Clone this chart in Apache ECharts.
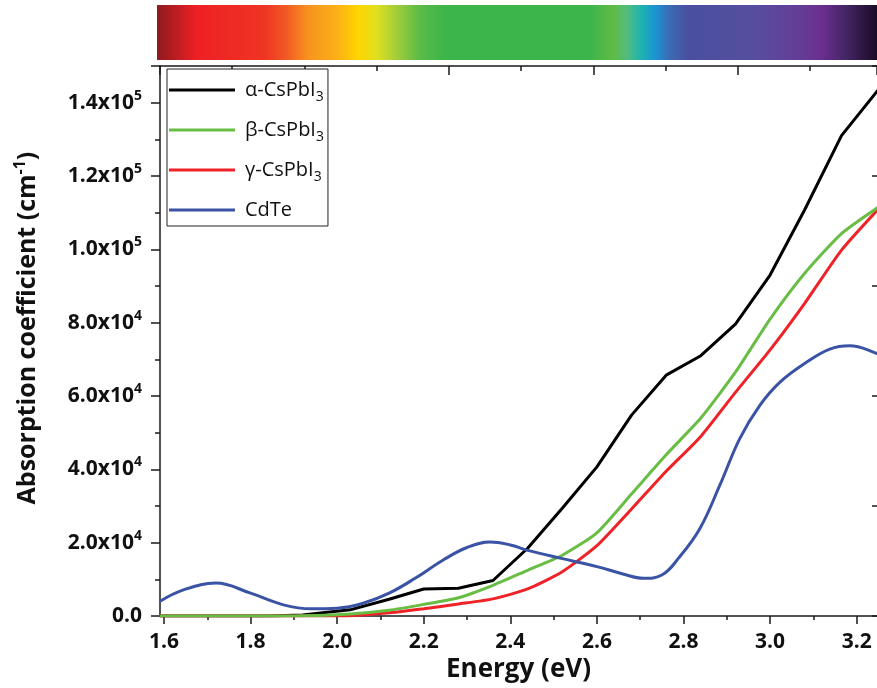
<!DOCTYPE html>
<html>
<head>
<meta charset="utf-8">
<script src="https://cdn.jsdelivr.net/npm/echarts@6/dist/echarts.min.js"></script>
<style>
html,body{margin:0;padding:0;background:#fff;}
#chart{width:877px;height:688px;}
</style>
</head>
<body>
<div id="chart"></div>
<script>
// ---- data ----
const energyCs = [1.59, 1.68, 1.76, 1.84, 1.92, 2.03, 2.12, 2.2, 2.28, 2.36, 2.44, 2.52, 2.6, 2.68, 2.76, 2.84, 2.92, 3.0, 3.08, 3.165, 3.25];
const alphaCsPbI3 = [0, 0, 0, 0, 300, 1700, 4600, 7400, 7600, 9700, 18500, 29400, 40700, 54800, 65700, 71000, 79600, 93000, 110800, 131000, 143500];
const betaCsPbI3  = [0, 0, 0, 0, 100, 600, 1600, 3200, 5000, 8400, 12500, 16600, 22700, 33300, 44000, 54000, 66500, 81000, 93500, 104300, 111500];
const gammaCsPbI3 = [0, 0, 0, 0, 0, 100, 900, 2000, 3300, 4700, 7400, 12100, 19200, 29200, 39500, 49000, 61000, 72600, 85300, 99800, 111000];
const energyCdTe = [1.59, 1.645, 1.72, 1.8, 1.876, 1.94, 2.0, 2.06, 2.12, 2.18, 2.245, 2.3, 2.353, 2.4, 2.438, 2.515, 2.6, 2.66, 2.707, 2.75, 2.79, 2.838, 2.884, 2.93, 2.976, 3.023, 3.084, 3.138, 3.184, 3.25];
const cdTe = [4000, 7150, 9000, 6250, 3070, 2000, 2150, 3500, 6250, 10300, 15300, 18700, 20200, 19400, 18000, 15800, 13500, 11500, 10300, 11200, 16000, 23900, 35700, 48400, 57400, 63800, 69200, 72800, 73700, 71400];
const seriesNames = ['α-CsPbI3', 'β-CsPbI3', 'γ-CsPbI3', 'CdTe'];
const xTickValues = [1.6, 1.8, 2.0, 2.2, 2.4, 2.6, 2.8, 3.0, 3.2];
const xMinorValues = [1.7, 1.9, 2.1, 2.3, 2.5, 2.7, 2.9, 3.1];

const FONT = 'Open Sans';
const AXC = '#1a1a1a';

function pairs(xs, ys) { return xs.map((x, i) => [x, ys[i]]); }

function yLabel(v) {
  if (Math.abs(v % 20000) > 1e-6) return '';
  if (v === 0) return '{m|0.0}';
  const e = Math.floor(Math.log10(v));
  const m = (v / Math.pow(10, e)).toFixed(1);
  return '{m|' + m + 'x10}{s|' + e + '}';
}
function legendLabel(name) {
  const m = name.match(/^(.*)(\d)$/);
  if (m) return '{t|' + m[1] + '}{sub|' + m[2] + '}';
  return '{t|' + name + '}';
}

const chart = echarts.init(document.getElementById('chart'), null, {renderer: 'canvas'});
const X_MIN = 1.5908, X_MAX = 3.247;

const option = {
  animation: false,
  backgroundColor: '#fff',
  grid: {left: 160, right: 0, top: 66, bottom: 69, containLabel: false},
  graphic: [{
    type: 'rect',
    shape: {x: 157, y: 5, width: 720, height: 55},
    style: {
      fill: new echarts.graphic.LinearGradient(0, 0, 1, 0, [
        {offset: 0, color: '#8e1a1e'},
        {offset: 0.055, color: '#ee2024'},
        {offset: 0.15, color: '#ee3524'},
        {offset: 0.18, color: '#f15a24'},
        {offset: 0.21, color: '#f7931e'},
        {offset: 0.25, color: '#fbb017'},
        {offset: 0.279, color: '#ffd400'},
        {offset: 0.305, color: '#e0e01f'},
        {offset: 0.33, color: '#a8cf38'},
        {offset: 0.365, color: '#5bbb47'},
        {offset: 0.4, color: '#3cb54a'},
        {offset: 0.6, color: '#3cb54a'},
        {offset: 0.634, color: '#5fbb46'},
        {offset: 0.653, color: '#52bc7d'},
        {offset: 0.672, color: '#1fb3b0'},
        {offset: 0.692, color: '#1a95d2'},
        {offset: 0.711, color: '#3a6db5'},
        {offset: 0.737, color: '#4a4f9f'},
        {offset: 0.827, color: '#564e9f'},
        {offset: 0.892, color: '#643d97'},
        {offset: 0.924, color: '#6a2e8e'},
        {offset: 0.956, color: '#452565'},
        {offset: 1, color: '#1a0b26'}
      ])
    },
    z: 0
  }],
  legend: {
    data: seriesNames,
    orient: 'vertical',
    left: 167, top: 69,
    padding: [11, 4, 6, 2],
    itemGap: 16,
    itemWidth: 66, itemHeight: 3,
    icon: 'rect',
    borderColor: '#222', borderWidth: 1,
    backgroundColor: '#fff',
    formatter: legendLabel,
    textStyle: {
      color: '#111',
      rich: {
        t: {fontFamily: FONT, fontSize: 20, lineHeight: 28, padding: [0, 0, 0, 5], color: '#111'},
        sub: {fontFamily: FONT, fontSize: 14, lineHeight: 13, verticalAlign: 'bottom', color: '#111'}
      }
    }
  },
  xAxis: [{
    type: 'value', position: 'bottom', min: X_MIN, max: X_MAX,
    name: 'Energy (eV)', nameLocation: 'middle', nameGap: 32,
    nameTextStyle: {fontFamily: FONT, fontWeight: 'bold', fontSize: 26, color: '#111'},
    axisLine: {show: true, lineStyle: {color: AXC, width: 1.5}},
    axisTick: {show: true, inside: false, length: 8, customValues: xTickValues, lineStyle: {color: AXC, width: 1.5}},
    axisLabel: {show: true, customValues: xTickValues, margin: 15, fontFamily: FONT, fontWeight: 'bold', fontSize: 21, color: '#111',
      formatter: v => v.toFixed(1)},
    splitLine: {show: false}
  }, {
    type: 'value', position: 'bottom', min: X_MIN, max: X_MAX,
    axisLine: {show: false},
    axisTick: {show: true, length: 4, customValues: xMinorValues, lineStyle: {color: AXC, width: 1.5}},
    axisLabel: {show: false, customValues: xMinorValues},
    splitLine: {show: false}
  }, {
    type: 'value', position: 'top', min: 0, max: 4.962, interval: 1,
    axisLine: {show: true, lineStyle: {color: AXC, width: 1.5}},
    axisTick: {show: true, inside: true, length: 9, lineStyle: {color: AXC, width: 1.5}},
    minorTick: {show: true, splitNumber: 2, length: 5, lineStyle: {color: AXC, width: 1.5}},
    axisLabel: {show: false},
    splitLine: {show: false}
  }],
  yAxis: [{
    type: 'value', position: 'left', min: 0, max: 150000, interval: 20000,
    name: '{n|Absorption coefficient (cm}{s|-1}{n|)}',
    nameLocation: 'middle', nameRotate: 90, nameGap: 116,
    nameTextStyle: {
      padding: [0, 0, 0, 26],
      rich: {
        n: {fontFamily: FONT, fontWeight: 'bold', fontSize: 25, lineHeight: 32, color: '#111'},
        s: {fontFamily: FONT, fontWeight: 'bold', fontSize: 16, lineHeight: 16, verticalAlign: 'top', color: '#111'}
      }
    },
    axisLine: {show: true, lineStyle: {color: AXC, width: 1.5}},
    axisTick: {show: true, inside: false, length: 9, lineStyle: {color: AXC, width: 1.5}},
    minorTick: {show: true, splitNumber: 2, length: 5, lineStyle: {color: AXC, width: 1.5}},
    axisLabel: {
      margin: 18, formatter: yLabel,
      rich: {
        m: {fontFamily: FONT, fontWeight: 'bold', fontSize: 21, lineHeight: 28, color: '#111'},
        s: {fontFamily: FONT, fontWeight: 'bold', fontSize: 14, lineHeight: 14, verticalAlign: 'top', color: '#111'}
      }
    },
    splitLine: {show: false}
  }, {
    type: 'value', position: 'right', min: 0, max: 150000, interval: 30000,
    axisLine: {show: false},
    axisTick: {show: true, inside: true, length: 5, lineStyle: {color: AXC, width: 1.5}},
    axisLabel: {show: false},
    splitLine: {show: false}
  }],
  series: [
    {name: 'α-CsPbI3', type: 'line', data: pairs(energyCs, alphaCsPbI3), symbol: 'none', lineStyle: {color: '#000000', width: 3}, itemStyle: {color: '#000000'}, z: 3},
    {name: 'γ-CsPbI3', type: 'line', data: pairs(energyCs, gammaCsPbI3), symbol: 'none', smooth: 0.2, lineStyle: {color: '#ee2227', width: 3}, itemStyle: {color: '#ee2227'}, z: 4},
    {name: 'β-CsPbI3', type: 'line', data: pairs(energyCs, betaCsPbI3), symbol: 'none', smooth: 0.2, lineStyle: {color: '#69bd45', width: 3}, itemStyle: {color: '#69bd45'}, z: 5},
    {name: 'CdTe', type: 'line', data: pairs(energyCdTe, cdTe), symbol: 'none', smooth: 0.4, lineStyle: {color: '#3a53a4', width: 3}, itemStyle: {color: '#3a53a4'}, z: 6}
  ]
};
chart.setOption(option);
</script>
</body>
</html>
